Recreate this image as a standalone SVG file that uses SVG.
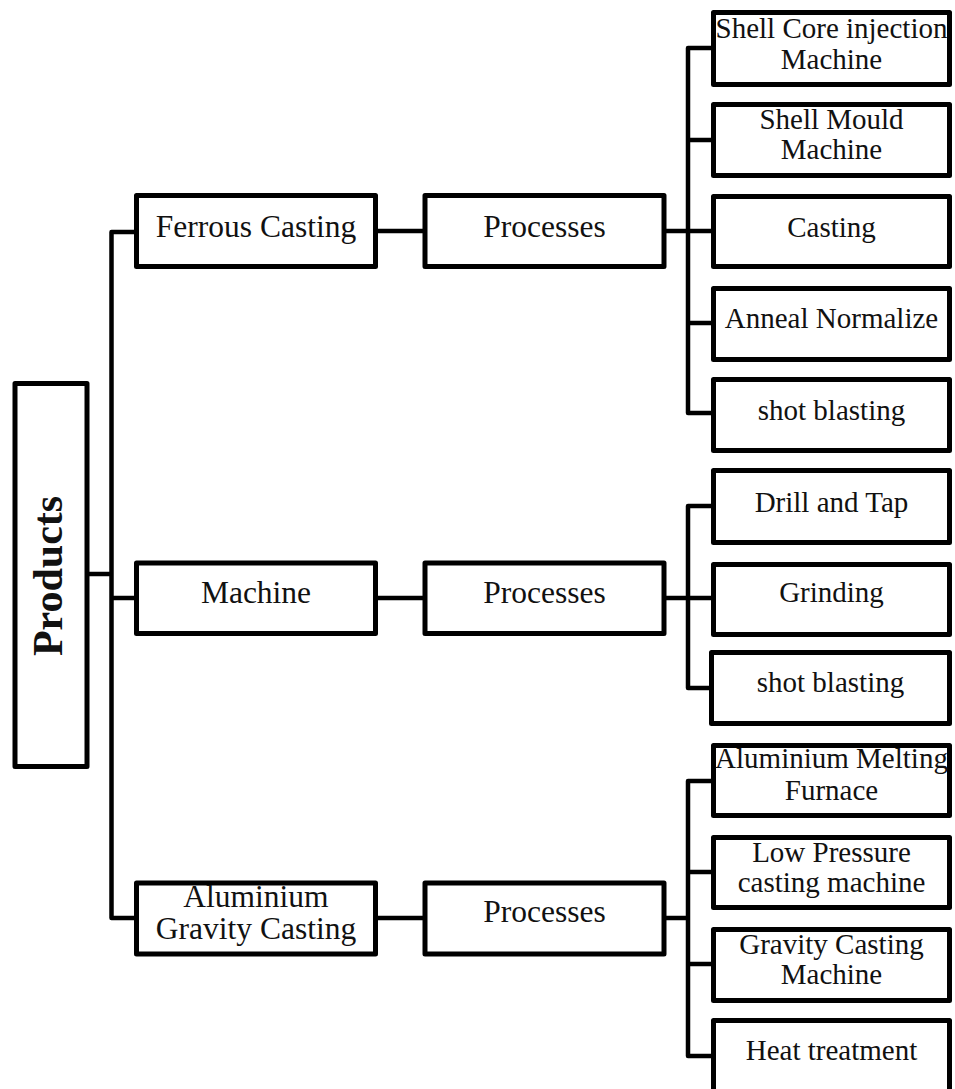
<svg xmlns="http://www.w3.org/2000/svg" width="955" height="1089" viewBox="0 0 955 1089">
<style>
.box{fill:#fff;stroke:#000;stroke-width:5;stroke-linejoin:round}
.con{fill:none;stroke:#000;stroke-width:4.5;stroke-linejoin:round}
.t{font-family:"Liberation Serif","Times New Roman",serif;fill:#111;text-anchor:middle}
.m{font-size:31.5px}
.r{font-size:29px}
.p{font-size:42px;font-weight:bold}
</style>
<rect width="955" height="1089" fill="#fff"/>
<g id="connectors">
<path class="con" d="M89,574 H111.5"/>
<path class="con" d="M134,232 H111.5 V918 H134"/>
<path class="con" d="M111.5,598 H134"/>
<path class="con" d="M378,231 H423"/>
<path class="con" d="M378,598 H423"/>
<path class="con" d="M378,918 H423"/>
<path class="con" d="M666,231 H688"/>
<path class="con" d="M711,48 H688 V413 H711 M688,140 H711 M688,231 H711 M688,323 H711"/>
<path class="con" d="M666,598 H688"/>
<path class="con" d="M711,506 H688 V688 H711 M688,598 H711"/>
<path class="con" d="M666,918 H688"/>
<path class="con" d="M711,781 H688 V1056 H711 M688,872 H711 M688,964 H711"/>
</g>
<g id="products"><rect class="box" x="15" y="383.5" width="72" height="383"/><text class="t p" transform="translate(61.5,576) rotate(-90)">Products</text></g>
<g id="ferrous"><rect class="box" x="136.5" y="195.5" width="239" height="71"/><text class="t m" x="256" y="237">Ferrous Casting</text></g>
<g id="machine"><rect class="box" x="136.5" y="563" width="239" height="70.5"/><text class="t m" x="256" y="603">Machine</text></g>
<g id="aluminium"><rect class="box" x="136.5" y="883" width="239" height="71"/><text class="t m" x="256" y="906.5">Aluminium</text><text class="t m" x="256" y="939">Gravity Casting</text></g>
<g id="proc1"><rect class="box" x="425" y="195.5" width="239" height="71"/><text class="t m" x="544.5" y="236.5">Processes</text></g>
<g id="proc2"><rect class="box" x="425" y="563" width="239" height="70.5"/><text class="t m" x="544.5" y="603">Processes</text></g>
<g id="proc3"><rect class="box" x="425" y="883" width="239" height="71"/><text class="t m" x="544.5" y="921.5">Processes</text></g>
<g id="shellcore"><rect class="box" x="713.5" y="12.5" width="236" height="72"/><text class="t r" x="831.5" y="38">Shell Core injection</text><text class="t r" x="831.5" y="69">Machine</text></g>
<g id="shellmould"><rect class="box" x="713.5" y="104.5" width="236" height="71"/><text class="t r" x="831.5" y="129">Shell Mould</text><text class="t r" x="831.5" y="159">Machine</text></g>
<g id="casting"><rect class="box" x="713.5" y="196.5" width="236" height="70"/><text class="t r" x="831.5" y="237">Casting</text></g>
<g id="anneal"><rect class="box" x="713.5" y="288.5" width="236" height="71"/><text class="t r" x="831.5" y="328">Anneal Normalize</text></g>
<g id="shot1"><rect class="box" x="713.5" y="379.5" width="236" height="71"/><text class="t r" x="831.5" y="420">shot blasting</text></g>
<g id="drill"><rect class="box" x="713.5" y="470.5" width="236" height="72"/><text class="t r" x="831.5" y="511.5">Drill and Tap</text></g>
<g id="grinding"><rect class="box" x="713.5" y="564.5" width="236" height="70"/><text class="t r" x="831.5" y="601.5">Grinding</text></g>
<g id="shot2"><rect class="box" x="711.5" y="652.5" width="238" height="71"/><text class="t r" x="830.5" y="691.5">shot blasting</text></g>
<g id="melting"><rect class="box" x="713.5" y="745.5" width="236" height="70"/><text class="t r" x="831.5" y="768">Aluminium Melting</text><text class="t r" x="831.5" y="800">Furnace</text></g>
<g id="lowpressure"><rect class="box" x="713.5" y="837.5" width="236" height="70"/><text class="t r" x="831.5" y="861.5">Low Pressure</text><text class="t r" x="831.5" y="891.5">casting machine</text></g>
<g id="gravity"><rect class="box" x="713.5" y="929.5" width="236" height="71"/><text class="t r" x="831.5" y="954">Gravity Casting</text><text class="t r" x="831.5" y="984">Machine</text></g>
<g id="heat"><rect class="box" x="713.5" y="1020.5" width="236" height="80"/><text class="t r" x="831.5" y="1060">Heat treatment</text></g>
</svg>
